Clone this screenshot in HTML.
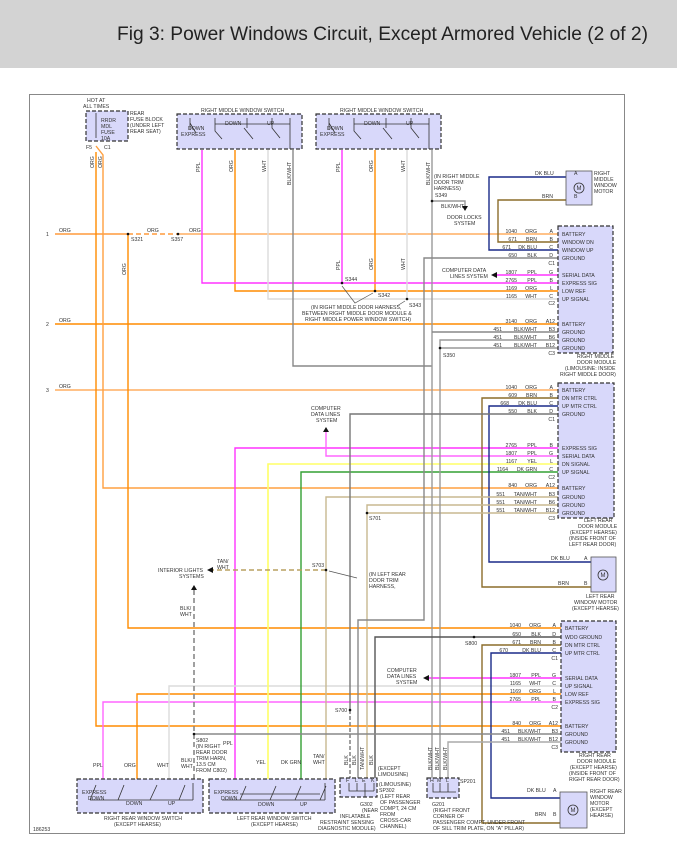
<!DOCTYPE html>
<html><head><meta charset="utf-8"><style>
html,body{margin:0;padding:0;background:#fff;}
svg{display:block;font-family:"Liberation Sans",sans-serif;}
.t{font-size:5.2px;fill:#333;}
.h{font-size:5.2px;fill:#333;}
</style></head><body>
<svg width="677" height="848" viewBox="0 0 677 848" xmlns="http://www.w3.org/2000/svg">
<rect x="0" y="0" width="677" height="68" fill="#d3d3d3"/>
<text x="117" y="40" font-size="19.5" fill="#222" textLength="531" lengthAdjust="spacingAndGlyphs">Fig 3: Power Windows Circuit, Except Armored Vehicle (2 of 2)</text>
<rect x="29.5" y="94.5" width="595" height="739" fill="#fff" stroke="#888" stroke-width="1"/>

<g fill="none" stroke-width="1.4">
<!-- orange circuits -->
<path d="M55 234 H128" stroke="#ff9a3c"/>
<path d="M128 234 H178" stroke="#ff9a3c" stroke-dasharray="5,3"/>
<path d="M178 234 H560" stroke="#ffad60"/>
<path d="M55 324 H560" stroke="#ff8c00"/>
<path d="M55 390 H560" stroke="#ffad60"/>
<path d="M96 152 V726 H562" stroke="#ff8c00"/>
<path d="M96 146 L103 155 V488 H560" stroke="#ffa040"/>
<path d="M128 234 V628 H562" stroke="#ff8c00"/>
<path d="M235 150 V291 H560" stroke="#ff8c00"/>
<path d="M375 150 V291" stroke="#ff8c00"/>
<path d="M137 783 V694 H562" stroke="#ff8c00"/>
<!-- pink -->
<path d="M202 150 V283 H560" stroke="#ff33ff"/>
<path d="M342 150 V283" stroke="#ff33ff"/>
<path d="M560 275 H496" stroke="#ff33ff"/>
<path d="M560 448 H235 V783" stroke="#ff33ff"/>
<path d="M560 456 H326 V432" stroke="#ff66ff"/>
<path d="M562 678 H428" stroke="#ff33ff"/>
<path d="M562 702 H103 V783" stroke="#ff66ff"/>
<!-- white -->
<path d="M268 150 V299 H560" stroke="#dcdcdc"/>
<path d="M407 150 V299" stroke="#dcdcdc"/>
<path d="M562 686 H169 V783" stroke="#dcdcdc"/>
<!-- yellow / green -->
<path d="M560 464 H268 V783" stroke="#ffff66" stroke-width="1.6"/>
<path d="M560 472 H301 V783" stroke="#33a033"/>
<!-- dk blue / brown -->
<path d="M566 177 H489 V250 H560" stroke="#1a2a88"/>
<path d="M566 200 H498 V242 H560" stroke="#8b6d2a"/>
<path d="M560 406 H489 V562 H591" stroke="#1a2a88"/>
<path d="M560 398 H482 V587 H591" stroke="#8b6d2a"/>
<path d="M562 653 H491 V798 H560" stroke="#1a2a88"/>
<path d="M562 645 H482 V823 H560" stroke="#8b6d2a"/>
<!-- tan -->
<path d="M560 497 H326 V783" stroke="#c8b890"/>
<path d="M560 505 H367 V778" stroke="#c8b890"/>
<path d="M560 513 H367" stroke="#c8b890"/>
<path d="M326 570 H212" stroke="#b8a060" stroke-dasharray="5,3"/>
<!-- grays -->
<path d="M293 150 V366 H432" stroke="#888"/>
<path d="M432 150 V778" stroke="#999"/>
<path d="M432 332 H560" stroke="#888"/>
<path d="M432 201 H465 V206" stroke="#999"/>
<path d="M560 258 H424 V620 H358 V778" stroke="#888"/>
<path d="M560 340 H440 V778" stroke="#999"/>
<path d="M560 348 H440" stroke="#999"/>
<path d="M560 414 H350 V710" stroke="#777"/>
<path d="M350 710 V778" stroke="#777" stroke-dasharray="4,2"/>
<path d="M562 637 H375 V778" stroke="#555"/>
<path d="M562 734 H194" stroke="#888"/>
<path d="M194 590 V783" stroke="#888" stroke-dasharray="5,3" stroke-width="1.6"/>
<path d="M562 742 H448 V783" stroke="#aaa"/>
</g>

<!-- arrows -->
<g fill="#111">
<path d="M462 206 h6 l-3 5 z"/>
<path d="M491 275 l6 -3 v6 z"/>
<path d="M326 427 l-3 5 h6 z"/>
<path d="M423 678 l6 -3 v6 z"/>
<path d="M207 570 l6 -3 v6 z"/>
<path d="M194 585 l-3 5 h6 z"/>
</g>
<!-- splices -->
<g fill="#111">
<circle cx="128" cy="234" r="1.3"/><circle cx="178" cy="234" r="1.3"/>
<circle cx="342" cy="283" r="1.3"/><circle cx="375" cy="291" r="1.3"/><circle cx="407" cy="299" r="1.3"/>
<circle cx="432" cy="201" r="1.3"/><circle cx="440" cy="348" r="1.3"/>
<circle cx="367" cy="513" r="1.3"/><circle cx="326" cy="570" r="1.3"/>
<circle cx="350" cy="710" r="1.3"/><circle cx="474" cy="637" r="1.3"/><circle cx="194" cy="734" r="1.3"/>
</g>
<g stroke="#555" stroke-width="0.7" fill="none">
<path d="M342 286 L355 303 L373 293"/><path d="M397 306 L405 301"/>
<path d="M329 571 L357 578"/>
</g>

<!-- boxes -->
<g fill="#d8d8fa" stroke="#333" stroke-width="1.2" stroke-dasharray="4,2">
<rect x="86" y="111" width="42" height="30"/>
<rect x="177" y="114" width="125" height="35"/>
<rect x="316" y="114" width="125" height="35"/>
<rect x="558" y="226" width="55" height="127"/>
<rect x="558" y="383" width="56" height="135"/>
<rect x="561" y="621" width="55" height="131"/>
<rect x="77" y="779" width="126" height="34"/>
<rect x="209" y="779" width="126" height="34"/>
<rect x="340" y="778" width="37" height="19"/>
<rect x="427" y="778" width="32" height="20"/>
</g>
<g fill="#d8d8fa" stroke="#555" stroke-width="0.8">
<rect x="566" y="171" width="26" height="34"/>
<rect x="591" y="557" width="25" height="35"/>
<rect x="560" y="792" width="27" height="36"/>
</g>
<g fill="none" stroke="#333" stroke-width="0.8">
<circle cx="579" cy="188" r="5"/><circle cx="603" cy="575" r="5"/><circle cx="573" cy="810" r="5"/>
<path d="M190 118 V130 M190 123 L196 133 M215 118 V131 L222 139 M247 118 V128 M244 128 L253 139 M272 118 V128 L280 138 M215 124 H290 M290 118 V149"/>
<path d="M329 118 V130 M329 123 L335 133 M354 118 V131 L361 139 M386 118 V128 M383 128 L392 139 M411 118 V128 L419 138 M354 124 H429 M429 118 V149"/>
<path d="M96 113 V138"/>
<path d="M90 800 H193 M90 800 L96 785 M118 800 L124 785 M150 800 L157 785 M179 800 L185 785 M193 783 V800"/>
<path d="M222 800 H325 M240 794 H320 M240 800 L246 786 M270 800 L276 786 M295 800 L301 786 M320 800 L326 786 M325 783 V800"/>
<path d="M349 783 V791 H374 M357 783 V791 M365 783 V797 M374 783 V791"/>
<path d="M433 783 V792 H456 M440 783 V792 M448 783 V792"/>
</g>
<g class="t" text-anchor="middle">
<text x="579" y="190" font-size="6">M</text><text x="603" y="577" font-size="6">M</text><text x="573" y="812" font-size="6">M</text>
</g>

<!-- labels -->
<g class="t">
<text x="87" y="102">HOT AT</text><text x="83" y="108">ALL TIMES</text>
<text x="101" y="122">RRDR</text><text x="101" y="128">MDL</text><text x="101" y="134">FUSE</text><text x="101" y="140">10A</text>
<text x="130" y="115">REAR</text><text x="130" y="121">FUSE BLOCK</text><text x="130" y="127">(UNDER LEFT</text><text x="130" y="133">REAR SEAT)</text>
<text x="86" y="149">F5</text><text x="104" y="149">C1</text>
<text x="201" y="112">RIGHT MIDDLE WINDOW SWITCH</text>
<text x="340" y="112">RIGHT MIDDLE WINDOW SWITCH</text>
<text x="188" y="130">DOWN</text><text x="181" y="136">EXPRESS</text><text x="225" y="125">DOWN</text><text x="267" y="125">UP</text>
<text x="327" y="130">DOWN</text><text x="320" y="136">EXPRESS</text><text x="364" y="125">DOWN</text><text x="406" y="125">UP</text>
<text x="46" y="236">1</text><text x="46" y="326">2</text><text x="46" y="392">3</text>
<text x="59" y="232">ORG</text><text x="59" y="322">ORG</text><text x="59" y="388">ORG</text>
<text x="147" y="232">ORG</text><text x="189" y="232">ORG</text>
<text x="131" y="241">S321</text><text x="171" y="241">S357</text>
<text x="434" y="178">(IN RIGHT MIDDLE</text><text x="434" y="184">DOOR TRIM</text><text x="434" y="190">HARNESS)</text><text x="435" y="197">S349</text>
<text x="441" y="208">BLK/WHT</text>
<text x="447" y="219">DOOR LOCKS</text><text x="454" y="225">SYSTEM</text>
<text x="535" y="175">DK BLU</text><text x="574" y="175">A</text>
<text x="542" y="198">BRN</text><text x="574" y="198">B</text>
<text x="594" y="175">RIGHT</text><text x="594" y="181">MIDDLE</text><text x="594" y="187">WINDOW</text><text x="594" y="193">MOTOR</text>
<text x="442" y="272">COMPUTER DATA</text><text x="450" y="278">LINES SYSTEM</text>
<text x="345" y="281">S344</text><text x="378" y="297">S342</text><text x="409" y="307">S343</text>
<text x="311" y="309">(IN RIGHT MIDDLE DOOR HARNESS,</text>
<text x="302" y="315">BETWEEN RIGHT MIDDLE DOOR MODULE &amp;</text>
<text x="305" y="321">RIGHT MIDDLE POWER WINDOW SWITCH)</text>
<text x="443" y="357">S350</text>
<text x="577" y="358">RIGHT MIDDLE</text><text x="577" y="364">DOOR MODULE</text><text x="565" y="370">(LIMOUSINE: INSIDE</text><text x="560" y="376">RIGHT MIDDLE DOOR)</text>
<text x="311" y="410">COMPUTER</text><text x="311" y="416">DATA LINES</text><text x="316" y="422">SYSTEM</text>
<text x="369" y="520">S701</text><text x="312" y="567">S703</text>
<text x="369" y="576">(IN LEFT REAR</text><text x="369" y="582">DOOR TRIM</text><text x="369" y="588">HARNESS,</text>
<text x="217" y="563">TAN/</text><text x="217" y="569">WHT</text>
<text x="158" y="572">INTERIOR LIGHTS</text><text x="179" y="578">SYSTEMS</text>
<text x="180" y="610">BLK/</text><text x="180" y="616">WHT</text>
<text x="584" y="522">LEFT REAR</text><text x="578" y="528">DOOR MODULE</text><text x="570" y="534">(EXCEPT HEARSE)</text><text x="569" y="540">(INSIDE FRONT OF</text><text x="569" y="546">LEFT REAR DOOR)</text>
<text x="551" y="560">DK BLU</text><text x="584" y="560">A</text><text x="558" y="585">BRN</text><text x="584" y="585">B</text>
<text x="586" y="598">LEFT REAR</text><text x="574" y="604">WINDOW MOTOR</text><text x="572" y="610">(EXCEPT HEARSE)</text>
<text x="465" y="645">S800</text>
<text x="387" y="672">COMPUTER</text><text x="387" y="678">DATA LINES</text><text x="396" y="684">SYSTEM</text>
<text x="335" y="712">S700</text>
<text x="196" y="742">S802</text><text x="196" y="748">(IN RIGHT</text><text x="196" y="754">REAR DOOR</text><text x="196" y="760">TRIM HARN,</text><text x="196" y="766">13.5 CM</text><text x="196" y="772">FROM C802)</text>
<text x="223" y="745">PPL</text>
<text x="93" y="767">PPL</text><text x="124" y="767">ORG</text><text x="157" y="767">WHT</text><text x="181" y="762">BLK/</text><text x="181" y="768">WHT</text>
<text x="256" y="764">YEL</text><text x="281" y="764">DK GRN</text><text x="313" y="758">TAN/</text><text x="313" y="764">WHT</text>
<text x="82" y="794">EXPRESS</text><text x="88" y="800">DOWN</text><text x="126" y="805">DOWN</text><text x="168" y="805">UP</text>
<text x="214" y="794">EXPRESS</text><text x="221" y="800">DOWN</text><text x="258" y="806">DOWN</text><text x="300" y="806">UP</text>
<text x="104" y="820">RIGHT REAR WINDOW SWITCH</text><text x="114" y="826">(EXCEPT HEARSE)</text>
<text x="237" y="820">LEFT REAR WINDOW SWITCH</text><text x="251" y="826">(EXCEPT HEARSE)</text>
<text x="378" y="770">(EXCEPT</text><text x="378" y="776">LIMOUSINE)</text><text x="379" y="786">(LIMOUSINE)</text>
<text x="379" y="792">SP302</text><text x="380" y="798">(LEFT REAR</text><text x="380" y="804">OF PASSENGER</text><text x="380" y="810">COMPT, 24 CM</text><text x="380" y="816">FROM</text><text x="380" y="822">CROSS-CAR</text><text x="380" y="828">CHANNEL)</text>
<text x="360" y="806">G302</text><text x="362" y="812">(NEAR</text><text x="340" y="818">INFLATABLE</text><text x="320" y="824">RESTRAINT SENSING</text><text x="318" y="830">DIAGNOSTIC MODULE)</text>
<text x="346" y="782">F</text><text x="355" y="782">L</text><text x="362" y="782">E</text><text x="371" y="782">K</text>
<text x="430" y="782">H</text><text x="437" y="782">M</text><text x="446" y="782">L</text><text x="460" y="783">SP201</text>
<text x="432" y="806">G201</text><text x="433" y="812">(RIGHT FRONT</text><text x="433" y="818">CORNER OF</text><text x="433" y="824">PASSENGER COMPT, UNDER FRONT</text><text x="433" y="830">OF SILL TRIM PLATE, ON "A" PILLAR)</text>
<text x="579" y="757">RIGHT REAR</text><text x="577" y="763">DOOR MODULE</text><text x="570" y="769">(EXCEPT HEARSE)</text><text x="569" y="775">(INSIDE FRONT OF</text><text x="569" y="781">RIGHT REAR DOOR)</text>
<text x="527" y="792">DK BLU</text><text x="553" y="792">A</text><text x="535" y="816">BRN</text><text x="553" y="816">B</text>
<text x="590" y="793">RIGHT REAR</text><text x="590" y="799">WINDOW</text><text x="590" y="805">MOTOR</text><text x="590" y="811">(EXCEPT</text><text x="590" y="817">HEARSE)</text>
<text x="33" y="831">186253</text>
</g>
<!-- module pin labels -->
<g class="t">
<text x="562" y="236">BATTERY</text><text x="562" y="244">WINDOW DN</text><text x="562" y="252">WINDOW UP</text><text x="562" y="260">GROUND</text>
<text x="562" y="277">SERIAL DATA</text><text x="562" y="285">EXPRESS SIG</text><text x="562" y="293">LOW REF</text><text x="562" y="301">UP SIGNAL</text>
<text x="562" y="326">BATTERY</text><text x="562" y="334">GROUND</text><text x="562" y="342">GROUND</text><text x="562" y="350">GROUND</text>
<text x="562" y="392">BATTERY</text><text x="562" y="400">DN MTR CTRL</text><text x="562" y="408">UP MTR CTRL</text><text x="562" y="416">GROUND</text>
<text x="562" y="450">EXPRESS SIG</text><text x="562" y="458">SERIAL DATA</text><text x="562" y="466">DN SIGNAL</text><text x="562" y="474">UP SIGNAL</text>
<text x="562" y="490">BATTERY</text><text x="562" y="499">GROUND</text><text x="562" y="507">GROUND</text><text x="562" y="515">GROUND</text>
<text x="565" y="630">BATTERY</text><text x="565" y="639">WDO GROUND</text><text x="565" y="647">DN MTR CTRL</text><text x="565" y="655">UP MTR CTRL</text>
<text x="565" y="680">SERIAL DATA</text><text x="565" y="688">UP SIGNAL</text><text x="565" y="696">LOW REF</text><text x="565" y="704">EXPRESS SIG</text>
<text x="565" y="728">BATTERY</text><text x="565" y="736">GROUND</text><text x="565" y="744">GROUND</text>
</g>
<g class="t" text-anchor="end">
<text x="517" y="233">1040</text><text x="537" y="233">ORG</text><text x="553" y="233">A</text>
<text x="517" y="241">671</text><text x="537" y="241">BRN</text><text x="553" y="241">B</text>
<text x="511" y="249">671</text><text x="537" y="249">DK BLU</text><text x="553" y="249">C</text>
<text x="517" y="257">650</text><text x="537" y="257">BLK</text><text x="553" y="257">D</text><text x="555" y="265">C1</text>
<text x="517" y="274">1807</text><text x="537" y="274">PPL</text><text x="553" y="274">G</text>
<text x="517" y="282">2765</text><text x="537" y="282">PPL</text><text x="553" y="282">B</text>
<text x="517" y="290">1169</text><text x="537" y="290">ORG</text><text x="553" y="290">L</text>
<text x="517" y="298">1165</text><text x="537" y="298">WHT</text><text x="553" y="298">C</text><text x="555" y="305">C2</text>
<text x="517" y="323">3140</text><text x="537" y="323">ORG</text><text x="555" y="323">A12</text>
<text x="502" y="331">451</text><text x="537" y="331">BLK/WHT</text><text x="555" y="331">B3</text>
<text x="502" y="339">451</text><text x="537" y="339">BLK/WHT</text><text x="555" y="339">B6</text>
<text x="502" y="347">451</text><text x="537" y="347">BLK/WHT</text><text x="555" y="347">B12</text><text x="555" y="355">C3</text>
<text x="517" y="389">1040</text><text x="537" y="389">ORG</text><text x="553" y="389">A</text>
<text x="517" y="397">609</text><text x="537" y="397">BRN</text><text x="553" y="397">B</text>
<text x="509" y="405">668</text><text x="537" y="405">DK BLU</text><text x="553" y="405">C</text>
<text x="517" y="413">550</text><text x="537" y="413">BLK</text><text x="553" y="413">D</text><text x="555" y="421">C1</text>
<text x="517" y="447">2765</text><text x="537" y="447">PPL</text><text x="553" y="447">B</text>
<text x="517" y="455">1807</text><text x="537" y="455">PPL</text><text x="553" y="455">G</text>
<text x="517" y="463">1167</text><text x="537" y="463">YEL</text><text x="553" y="463">L</text>
<text x="508" y="471">1164</text><text x="537" y="471">DK GRN</text><text x="553" y="471">C</text><text x="555" y="479">C2</text>
<text x="517" y="487">840</text><text x="537" y="487">ORG</text><text x="555" y="487">A12</text>
<text x="505" y="496">551</text><text x="537" y="496">TAN/WHT</text><text x="555" y="496">B3</text>
<text x="505" y="504">551</text><text x="537" y="504">TAN/WHT</text><text x="555" y="504">B6</text>
<text x="505" y="512">551</text><text x="537" y="512">TAN/WHT</text><text x="555" y="512">B12</text><text x="555" y="520">C3</text>
<text x="521" y="627">1040</text><text x="541" y="627">ORG</text><text x="556" y="627">A</text>
<text x="521" y="636">650</text><text x="541" y="636">BLK</text><text x="556" y="636">D</text>
<text x="521" y="644">671</text><text x="541" y="644">BRN</text><text x="556" y="644">B</text>
<text x="508" y="652">670</text><text x="541" y="652">DK BLU</text><text x="556" y="652">C</text><text x="558" y="660">C1</text>
<text x="521" y="677">1807</text><text x="541" y="677">PPL</text><text x="556" y="677">G</text>
<text x="521" y="685">1165</text><text x="541" y="685">WHT</text><text x="556" y="685">C</text>
<text x="521" y="693">1169</text><text x="541" y="693">ORG</text><text x="556" y="693">L</text>
<text x="521" y="701">2765</text><text x="541" y="701">PPL</text><text x="556" y="701">B</text><text x="558" y="709">C2</text>
<text x="521" y="725">840</text><text x="541" y="725">ORG</text><text x="558" y="725">A12</text>
<text x="510" y="733">451</text><text x="541" y="733">BLK/WHT</text><text x="558" y="733">B3</text>
<text x="510" y="741">451</text><text x="541" y="741">BLK/WHT</text><text x="558" y="741">B12</text><text x="558" y="749">C3</text>
</g>
<!-- vertical wire labels -->
<g class="t">
<text transform="translate(94,168) rotate(-90)">ORG</text>
<text transform="translate(102,168) rotate(-90)">ORG</text>
<text transform="translate(126,275) rotate(-90)">ORG</text>
<text transform="translate(200,172) rotate(-90)">PPL</text>
<text transform="translate(233,172) rotate(-90)">ORG</text>
<text transform="translate(266,172) rotate(-90)">WHT</text>
<text transform="translate(291,185) rotate(-90)">BLK/WHT</text>
<text transform="translate(340,172) rotate(-90)">PPL</text>
<text transform="translate(373,172) rotate(-90)">ORG</text>
<text transform="translate(405,172) rotate(-90)">WHT</text>
<text transform="translate(430,185) rotate(-90)">BLK/WHT</text>
<text transform="translate(340,270) rotate(-90)">PPL</text>
<text transform="translate(373,270) rotate(-90)">ORG</text>
<text transform="translate(405,270) rotate(-90)">WHT</text>
<text transform="translate(348,765) rotate(-90)">BLK</text>
<text transform="translate(356,765) rotate(-90)">BLK</text>
<text transform="translate(364,770) rotate(-90)">TAN/WHT</text>
<text transform="translate(373,765) rotate(-90)">BLK</text>
<text transform="translate(432,770) rotate(-90)">BLK/WHT</text>
<text transform="translate(439,770) rotate(-90)">BLK/WHT</text>
<text transform="translate(447,770) rotate(-90)">BLK/WHT</text>
</g>
</svg>
</body></html>
